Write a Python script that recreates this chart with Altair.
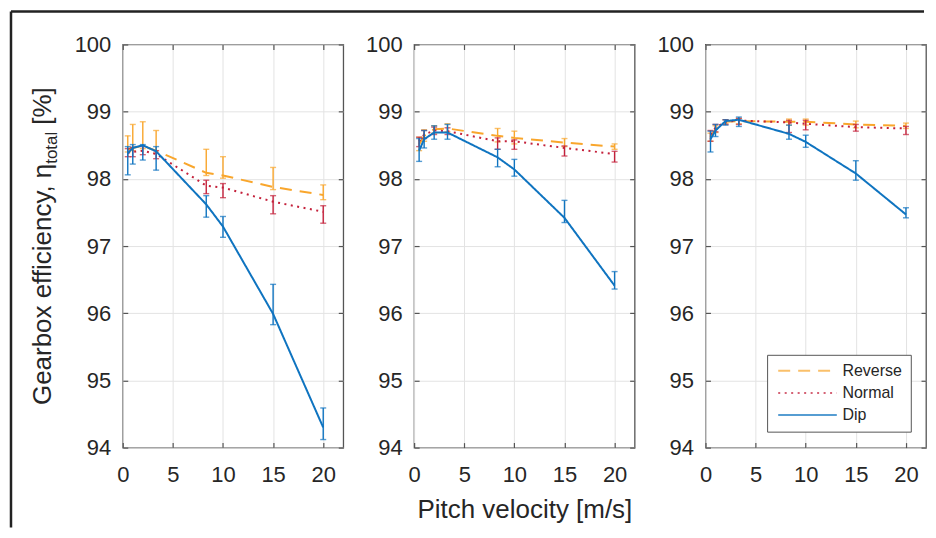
import altair as alt
import pandas as pd

# ---------------- data ----------------
x_vals = [0.5, 1, 2, 3.33, 8.33, 10, 15, 20]
series_names = ["Reverse", "Normal", "Dip"]

# panel 1
rev1 = [98.44, 98.46, 98.49, 98.42, 98.09, 98.05, 97.88, 97.76]
rev1_hi = [98.64, 98.81, 98.85, 98.72, 98.44, 98.33, 98.17, 97.91]
rev1_lo = [98.40, 98.42, 98.45, 98.38, 98.05, 98.01, 97.84, 97.69]
nor1 = [98.39, 98.40, 98.42, 98.37, 97.90, 97.87, 97.66, 97.51]
nor1_hi = [98.45, 98.47, 98.48, 98.42, 97.98, 97.93, 97.75, 97.60]
nor1_lo = [98.33, 98.33, 98.36, 98.30, 97.78, 97.72, 97.48, 97.34]
dip1 = [98.38, 98.46, 98.50, 98.41, 97.62, 97.29, 95.99, 94.30]
dip1_hi = [98.48, 98.51, 98.51, 98.48, 97.75, 97.44, 96.43, 94.59]
dip1_lo = [98.06, 98.22, 98.28, 98.13, 97.43, 97.13, 95.83, 94.12]

# panel 2
rev2 = [98.51, 98.64, 98.74, 98.75, 98.64, 98.61, 98.54, 98.48]
rev2_hi = [98.62, 98.73, 98.79, 98.82, 98.75, 98.71, 98.60, 98.52]
rev2_lo = [98.42, 98.56, 98.68, 98.70, 98.55, 98.52, 98.48, 98.44]
nor2 = [98.56, 98.66, 98.72, 98.71, 98.56, 98.56, 98.46, 98.37]
nor2_hi = [98.62, 98.72, 98.77, 98.76, 98.61, 98.58, 98.49, 98.41]
nor2_lo = [98.48, 98.60, 98.66, 98.66, 98.44, 98.44, 98.34, 98.25]
dip2 = [98.42, 98.59, 98.69, 98.69, 98.32, 98.14, 97.42, 96.41]
dip2_hi = [98.60, 98.72, 98.79, 98.81, 98.44, 98.29, 97.68, 96.62]
dip2_lo = [98.26, 98.46, 98.59, 98.59, 98.18, 98.04, 97.35, 96.36]

# panel 3
rev3 = [98.62, 98.74, 98.85, 98.86, 98.85, 98.85, 98.81, 98.79]
rev3_hi = [98.68, 98.79, 98.88, 98.90, 98.89, 98.89, 98.86, 98.83]
rev3_lo = [98.56, 98.69, 98.82, 98.82, 98.80, 98.80, 98.76, 98.75]
nor3 = [98.66, 98.76, 98.85, 98.87, 98.84, 98.82, 98.77, 98.75]
nor3_hi = [98.72, 98.81, 98.88, 98.90, 98.87, 98.87, 98.81, 98.78]
nor3_lo = [98.56, 98.70, 98.81, 98.81, 98.69, 98.73, 98.71, 98.66]
dip3 = [98.59, 98.72, 98.86, 98.88, 98.67, 98.55, 98.08, 97.47]
dip3_hi = [98.71, 98.81, 98.88, 98.92, 98.80, 98.65, 98.27, 97.57]
dip3_lo = [98.40, 98.63, 98.80, 98.78, 98.59, 98.47, 97.98, 97.42]

x_ticks = [0, 5, 10, 15, 20]
y_ticks = [94, 95, 96, 97, 98, 99, 100]
x_title = "Pitch velocity [m/s]"
y_title_main = "Gearbox efficiency, η"
y_title_sub = "total"
y_title_end = "[%]"

panel_data = {
    1: {"Reverse": (rev1, rev1_lo, rev1_hi), "Normal": (nor1, nor1_lo, nor1_hi), "Dip": (dip1, dip1_lo, dip1_hi)},
    2: {"Reverse": (rev2, rev2_lo, rev2_hi), "Normal": (nor2, nor2_lo, nor2_hi), "Dip": (dip2, dip2_lo, dip2_hi)},
    3: {"Reverse": (rev3, rev3_lo, rev3_hi), "Normal": (nor3, nor3_lo, nor3_hi), "Dip": (dip3, dip3_lo, dip3_hi)},
}

rows = []
for p, sd in panel_data.items():
    for s in series_names:
        v, lo, hi = sd[s]
        for xi, vi, l, h in zip(x_vals, v, lo, hi):
            rows.append(dict(panel=p, series=s, x=xi, val=vi, lo=l, hi=h))
df = pd.DataFrame(rows)

# ---------------- style ----------------
FONT = "Liberation Sans"
TXT = "#262626"
AXC = "#555555"
GRID = "#e3e3e3"
colors = ["#F9A62C", "#C4213B", "#0F74C0"]
dashes = [[12, 8], [2, 4.5], [1, 0]]

W, H = 221, 404
xs = alt.Scale(domain=[0, 22], nice=False, zero=False)
ys = alt.Scale(domain=[94, 100], nice=False, zero=False)
color_scale = alt.Scale(domain=series_names, range=colors)
dash_scale = alt.Scale(domain=series_names, range=dashes)

leg = alt.Legend(
    orient="none", legendX=645.75, legendY=311, title=None, direction="vertical",
    symbolType="M-5,0H5", symbolSize=138, symbolStrokeWidth=2, symbolOffset=24.5,
    labelFontSize=16, labelColor=TXT, labelFont=FONT, labelOffset=27,
    padding=8, rowPadding=6.2, strokeColor=AXC, fillColor="white",
)


def axis_pair(base, with_xtitle):
    bottom = alt.Axis(
        orient="bottom", values=x_ticks, grid=True, gridColor=GRID, gridWidth=1,
        domain=False, ticks=True, tickSize=5, tickColor=AXC, tickWidth=1.2, offset=-5,
        labelFontSize=22, labelColor=TXT, labelFont=FONT, labelPadding=17, labelFlush=False,
        labelOverlap=False,
        title=x_title if with_xtitle else None, titleFontSize=26, titleFontWeight="normal",
        titleColor=TXT, titleFont=FONT, titleY=75, titleBaseline="alphabetic",
    )
    left = alt.Axis(
        orient="left", values=y_ticks, grid=True, gridColor=GRID, gridWidth=1,
        domain=False, ticks=True, tickSize=5, tickColor=AXC, tickWidth=1.2, offset=-5,
        labelFontSize=22, labelColor=TXT, labelFont=FONT, labelPadding=12, format="d",
        labelFlush=False, labelOverlap=False, title=None,
    )
    top = alt.Axis(
        orient="top", values=x_ticks, grid=False, domain=False, ticks=True, tickSize=5,
        tickColor=AXC, tickWidth=1.2, offset=-5, labels=False, title=None,
    )
    right = alt.Axis(
        orient="right", values=y_ticks, grid=False, domain=False, ticks=True, tickSize=5,
        tickColor=AXC, tickWidth=1.2, offset=-5, labels=False, title=None,
    )
    a1 = base.mark_point(opacity=0).encode(
        x=alt.X("x:Q", scale=xs, axis=bottom), y=alt.Y("val:Q", scale=ys, axis=left))
    a2 = base.mark_point(opacity=0).encode(
        x=alt.X("x:Q", scale=xs, axis=top), y=alt.Y("val:Q", scale=ys, axis=right))
    return [a1, a2]


def series_layers(base):
    layers = []
    col = alt.Color("series:N", scale=color_scale, legend=leg)
    X = alt.X("x:Q", scale=xs, axis=None)
    for s in series_names:
        b = base.transform_filter(alt.datum.series == s)
        line = b.mark_line(strokeWidth=2).encode(
            x=X, y=alt.Y("val:Q", scale=ys, axis=None), color=col,
            strokeDash=alt.StrokeDash("series:N", scale=dash_scale, legend=leg),
        )
        rule = b.mark_rule(strokeWidth=1.4).encode(
            x=X, y=alt.Y("lo:Q", scale=ys, axis=None), y2="hi:Q", color=col)
        cap_lo = b.mark_tick(orient="horizontal", size=6, thickness=1.4).encode(
            x=X, y=alt.Y("lo:Q", scale=ys, axis=None), color=col)
        cap_hi = b.mark_tick(orient="horizontal", size=6, thickness=1.4).encode(
            x=X, y=alt.Y("hi:Q", scale=ys, axis=None), color=col)
        layers += [line, rule, cap_lo, cap_hi]
    return layers


def decorations():
    one = alt.Chart(pd.DataFrame({"t": [y_title_main]}))
    t_main = one.mark_text(angle=270, align="right", baseline="alphabetic", fontSize=26,
                           color=TXT, font=FONT).encode(
        text="t:N", x=alt.value(-72), y=alt.value(119.5))
    t_sub = alt.Chart(pd.DataFrame({"t": [y_title_sub]})).mark_text(
        angle=270, align="center", baseline="alphabetic", fontSize=17, color=TXT, font=FONT).encode(
        text="t:N", x=alt.value(-65.5), y=alt.value(103.5))
    t_end = alt.Chart(pd.DataFrame({"t": [y_title_end]})).mark_text(
        angle=270, align="left", baseline="alphabetic", fontSize=26, color=TXT, font=FONT).encode(
        text="t:N", x=alt.value(-72), y=alt.value(80.5))
    fr_left = one.mark_rule(color="#222222", strokeWidth=2.5).encode(
        x=alt.value(-112), y=alt.value(-33), y2=alt.value(484))
    fr_top = one.mark_rule(color="#222222", strokeWidth=2.5).encode(
        x=alt.value(-112), x2=alt.value(803), y=alt.value(-33))
    return [fr_left, fr_top, t_main, t_sub, t_end]


def panel(p):
    base = alt.Chart(df[df.panel == p])
    layers = axis_pair(base, p == 2) + series_layers(base)
    if p == 1:
        layers += decorations()
    return alt.layer(*layers).resolve_axis(x="independent", y="independent").properties(
        width=W, height=H)


chart = alt.hconcat(panel(1), panel(2), panel(3), spacing=71, bounds="flush").properties(
    padding={"left": 1, "top": 1, "right": 0, "bottom": 0}
).configure(font=FONT).configure_view(stroke=AXC, strokeWidth=1.3)

chart.save("out.html", embed_options={"renderer": "svg", "actions": False})
